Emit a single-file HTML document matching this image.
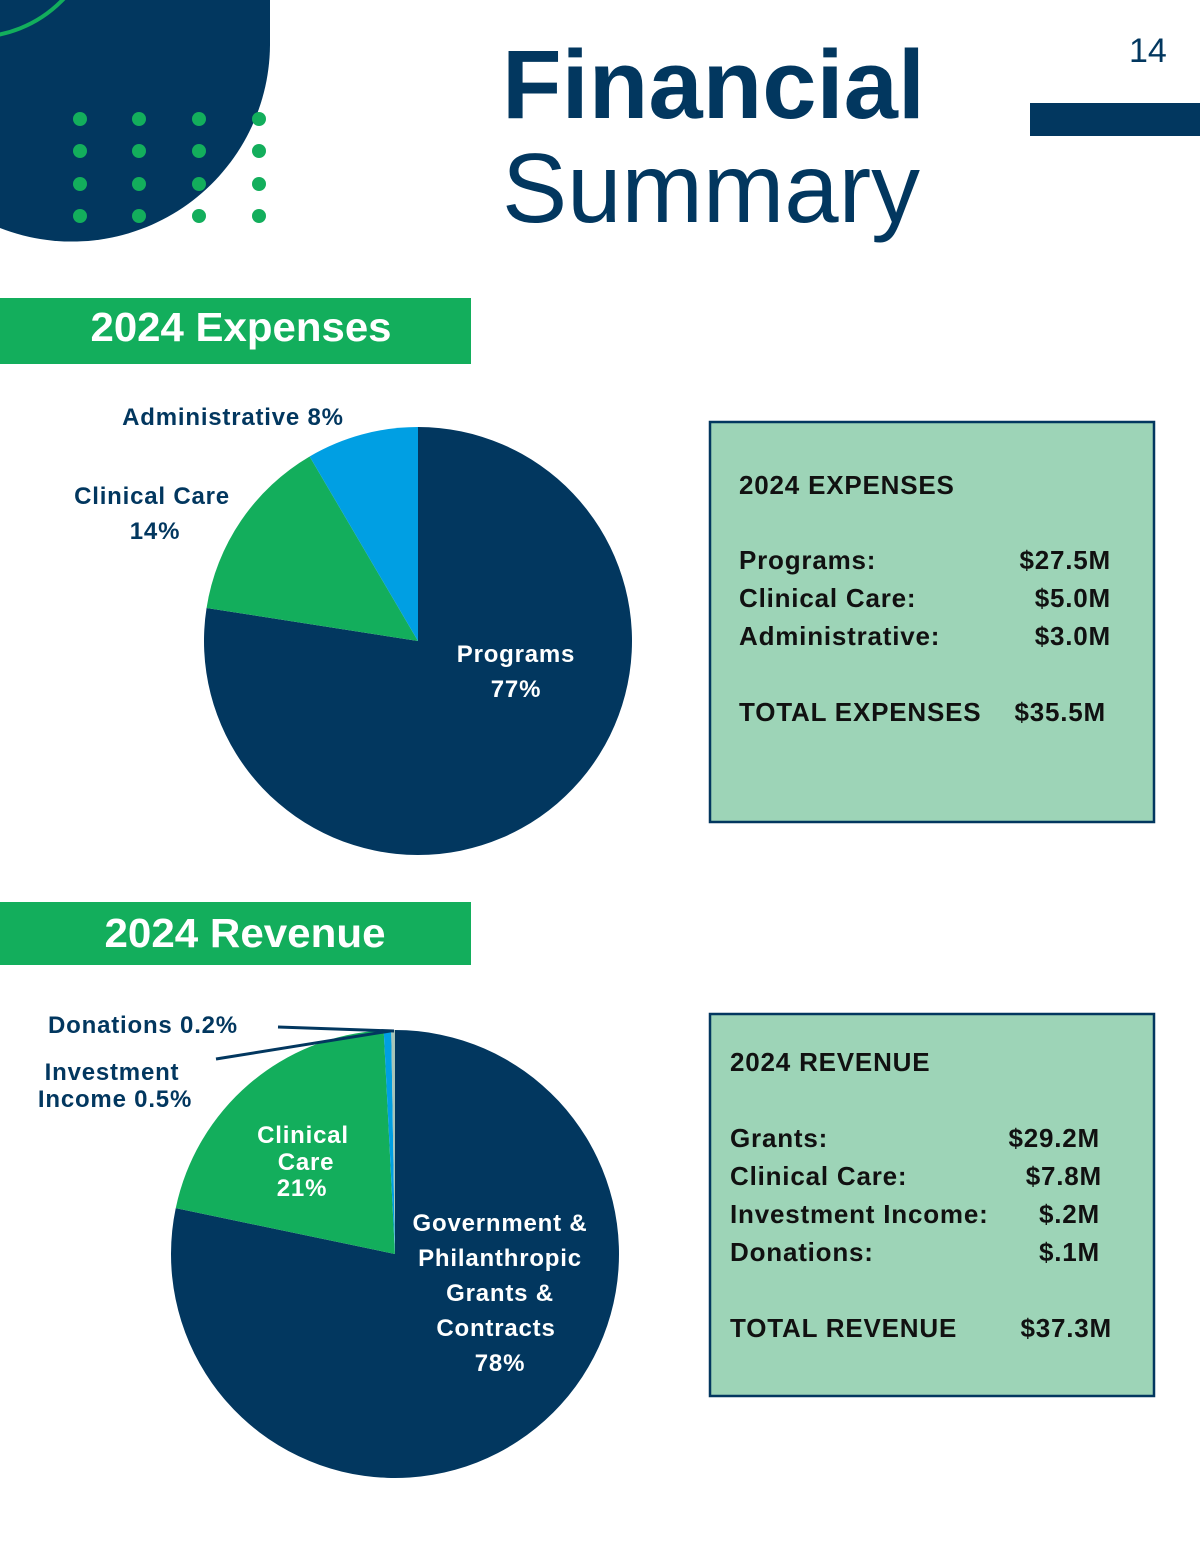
<!DOCTYPE html>
<html><head><meta charset="utf-8"><style>
html,body{margin:0;padding:0;background:#fff;}
svg{display:block;font-family:"Liberation Sans",sans-serif;}
</style></head><body>
<svg id="page" width="1200" height="1551" viewBox="0 0 1200 1551" xmlns="http://www.w3.org/2000/svg">
<g>
  <path d="M0 0 H270 V45 A198 198 0 0 1 0 228 Z" fill="#02375f"/>
  <circle cx="-25" cy="-85" r="122" fill="none" stroke="#13ae5c" stroke-width="4"/>
  <g id="dots" fill="#13ae5c"></g>
</g>
<text x="1129" y="62" font-size="34" fill="#02375f">14</text>
<rect x="1030" y="103" width="170" height="33" fill="#02375f"/>
<text x="502" y="118" font-size="97" font-weight="bold" fill="#02375f" textLength="423" lengthAdjust="spacingAndGlyphs">Financial</text>
<text x="502" y="222" font-size="98" fill="#02375f" textLength="418" lengthAdjust="spacingAndGlyphs">Summary</text>

<rect x="0" y="298" width="471" height="66" fill="#13ae5c"/>
<text x="241" y="341" font-size="41" font-weight="bold" fill="#fff" text-anchor="middle" textLength="301" lengthAdjust="spacingAndGlyphs">2024 Expenses</text>
<rect x="0" y="902" width="471" height="63" fill="#13ae5c"/>
<text x="245" y="947" font-size="41" font-weight="bold" fill="#fff" text-anchor="middle" textLength="281" lengthAdjust="spacingAndGlyphs">2024 Revenue</text>

<g id="exp-pie"></g>
<g id="rev-pie"></g>

<g font-weight="bold" fill="#02375f" font-size="24" letter-spacing="0.8">
  <text x="233" y="425" text-anchor="middle">Administrative 8%</text>
  <text x="152" y="504" text-anchor="middle">Clinical Care</text>
  <text x="155" y="539" text-anchor="middle">14%</text>
  <text x="516" y="662" text-anchor="middle" fill="#fff">Programs</text>
  <text x="516" y="697" text-anchor="middle" fill="#fff">77%</text>
  <text x="143" y="1033" text-anchor="middle">Donations 0.2%</text>
  <text x="112" y="1080" text-anchor="middle">Investment</text>
  <text x="115" y="1107" text-anchor="middle">Income 0.5%</text>
  <g fill="#fff" text-anchor="middle">
    <text x="303" y="1143">Clinical</text>
    <text x="306" y="1170">Care</text>
    <text x="302" y="1196">21%</text>
    <text x="500" y="1231">Government &amp;</text>
    <text x="500" y="1266">Philanthropic</text>
    <text x="500" y="1301">Grants &amp;</text>
    <text x="496" y="1336">Contracts</text>
    <text x="500" y="1371">78%</text>
  </g>
</g>
<line x1="278" y1="1027" x2="394" y2="1031" stroke="#02375f" stroke-width="3"/>
<line x1="216" y1="1059" x2="390" y2="1031" stroke="#02375f" stroke-width="3"/>

<g fill="#111" font-weight="bold" font-size="26" letter-spacing="0.8">
  <rect x="710" y="422" width="444" height="400" fill="#9dd4b7" stroke="#02375f" stroke-width="2.5"/>
  <text x="739" y="494">2024 EXPENSES</text>
  <text x="739" y="569">Programs:</text>
  <text x="1111" y="569" text-anchor="end">$27.5M</text>
  <text x="739" y="607">Clinical Care:</text>
  <text x="1111" y="607" text-anchor="end">$5.0M</text>
  <text x="739" y="645">Administrative:</text>
  <text x="1111" y="645" text-anchor="end">$3.0M</text>
  <text x="739" y="721">TOTAL EXPENSES</text>
  <text x="1106" y="721" text-anchor="end">$35.5M</text>
</g>
<g fill="#111" font-weight="bold" font-size="26" letter-spacing="0.8">
  <rect x="710" y="1014" width="444" height="382" fill="#9dd4b7" stroke="#02375f" stroke-width="2.5"/>
  <text x="730" y="1071">2024 REVENUE</text>
  <text x="730" y="1147">Grants:</text>
  <text x="1100" y="1147" text-anchor="end">$29.2M</text>
  <text x="730" y="1185">Clinical Care:</text>
  <text x="1102" y="1185" text-anchor="end">$7.8M</text>
  <text x="730" y="1223">Investment Income:</text>
  <text x="1100" y="1223" text-anchor="end">$.2M</text>
  <text x="730" y="1261">Donations:</text>
  <text x="1100" y="1261" text-anchor="end">$.1M</text>
  <text x="730" y="1337">TOTAL REVENUE</text>
  <text x="1112" y="1337" text-anchor="end">$37.3M</text>
</g>
</svg>
<script>
const expCategories = ["Programs", "Clinical Care", "Administrative"];
const expValues = [27.5, 5.0, 3.0];
const expColors = ["#02375f", "#13ae5c", "#009fe3"];
const revCategories = ["Grants", "Clinical Care", "Investment Income", "Donations"];
const revValues = [29.2, 7.8, 0.2, 0.1];
const revColors = ["#02375f", "#13ae5c", "#009fe3", "#a7c4b8"];
const NS = "http://www.w3.org/2000/svg";
function drawPie(gid, cats, vals, cols, cx, cy, r) {
  const g = document.getElementById(gid);
  const total = vals.reduce((a, b) => a + b, 0);
  let acc = 0;
  vals.forEach((v, i) => {
    const a0 = acc / total * 2 * Math.PI; acc += v;
    const a1 = acc / total * 2 * Math.PI;
    const x0 = cx + r * Math.sin(a0), y0 = cy - r * Math.cos(a0);
    const x1 = cx + r * Math.sin(a1), y1 = cy - r * Math.cos(a1);
    const large = (a1 - a0) > Math.PI ? 1 : 0;
    const p = document.createElementNS(NS, "path");
    p.setAttribute("d", `M${cx} ${cy} L${x0} ${y0} A${r} ${r} 0 ${large} 1 ${x1} ${y1} Z`);
    p.setAttribute("fill", cols[i]);
    
    
    g.appendChild(p);
  });
}
drawPie("exp-pie", expCategories, expValues, expColors, 418, 641, 214);
drawPie("rev-pie", revCategories, revValues, revColors, 395, 1254, 224);
const dots = document.getElementById("dots");
[80, 139, 199, 259].forEach(x => [119, 151, 184, 216].forEach(y => {
  const c = document.createElementNS(NS, "circle");
  c.setAttribute("cx", x); c.setAttribute("cy", y); c.setAttribute("r", 7);
  
  
  dots.appendChild(c);
}));
</script>
</body></html>
